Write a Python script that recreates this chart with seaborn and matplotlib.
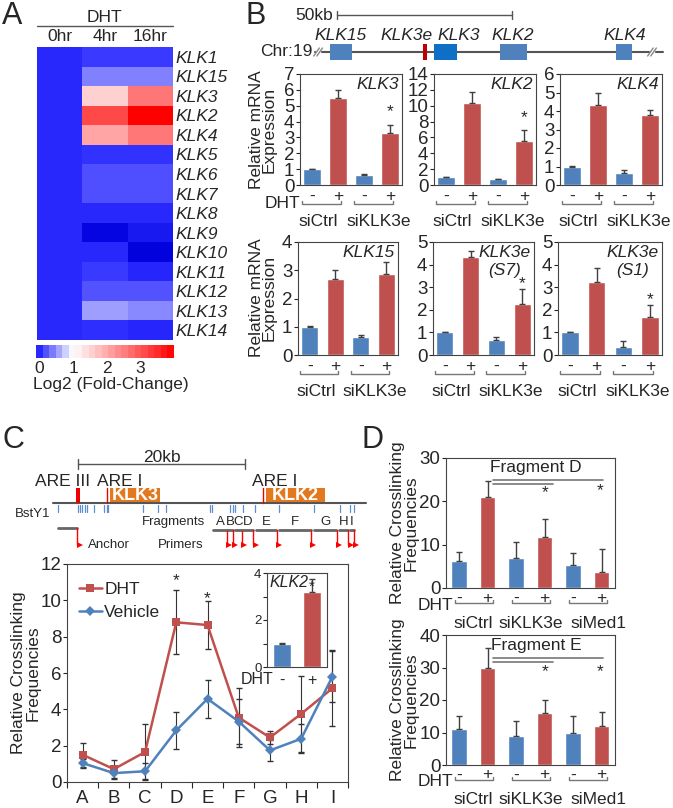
import numpy as np
import pandas as pd
import seaborn as sns
import matplotlib.pyplot as plt
from matplotlib.colors import LinearSegmentedColormap, Normalize
from matplotlib.cm import ScalarMappable

sns.set_style('white')
plt.rcParams['font.family'] = ['Liberation Sans', 'DejaVu Sans']

# ---- data ----
# A: log2 fold change of KLK genes after DHT
genes = ['KLK1', 'KLK15', 'KLK3', 'KLK2', 'KLK4', 'KLK5', 'KLK6', 'KLK7',
         'KLK8', 'KLK9', 'KLK10', 'KLK11', 'KLK12', 'KLK13', 'KLK14']
fc_0hr = [0.0] * 15
fc_4hr = [0.08, 0.42, 1.55, 3.15, 2.06, 0.04, 0.18, 0.18, 0.0, -0.25, -0.01, 0.08, 0.2, 0.55, 0.03]
fc_16hr = [0.08, 0.42, 2.62, 4.0, 2.59, 0.04, 0.18, 0.18, 0.0, -0.12, -0.28, -0.03, 0.2, 0.45, -0.03]

# B: relative mRNA expression (siCtrl -, +, siKLK3e -, +)
klk3_mean = [1.0, 5.5, 0.65, 3.3]
klk3_err = [0.03, 0.5, 0.05, 0.5]
klk2_mean = [1.0, 10.3, 0.75, 5.6]
klk2_err = [0.05, 1.4, 0.05, 1.3]
klk4_mean = [1.0, 4.3, 0.65, 3.8]
klk4_err = [0.02, 0.7, 0.15, 0.25]
klk15_mean = [1.0, 2.7, 0.62, 2.85]
klk15_err = [0.02, 0.3, 0.1, 0.45]
s7_mean = [1.0, 4.35, 0.65, 2.25]
s7_err = [0.02, 0.25, 0.15, 0.65]
s1_mean = [1.0, 3.25, 0.35, 1.7]
s1_err = [0.02, 0.6, 0.25, 0.5]
b_groups = ['siCtrl', 'siKLK3e']

# B schematic (kb)
b_gene_names = ['KLK15', 'KLK3e', 'KLK3', 'KLK2', 'KLK4']
b_gene_start = [-2.0, 24.6, 27.7, 46.6, 79.7]
b_gene_end = [4.3, 25.7, 34.3, 54.3, 84.3]
b_gene_label = [0.9, 20.0, 34.9, 50.3, 82.3]

# C: 3C crosslinking
fragments = ['A', 'B', 'C', 'D', 'E', 'F', 'G', 'H', 'I']
c_dht = [1.5, 0.71, 1.65, 8.79, 8.64, 3.55, 2.45, 3.75, 5.16]
c_dht_err = [0.65, 0.48, 1.55, 1.76, 1.3, 1.6, 0.35, 2.1, 2.1]
c_veh = [1.04, 0.49, 0.59, 2.84, 4.58, 3.33, 1.74, 2.38, 5.8]
c_veh_err = [0.25, 0.3, 0.45, 1.0, 1.05, 1.25, 0.57, 0.8, 1.4]
inset_mean = [1.0, 3.2]
inset_err = [0.02, 0.55]

# C schematic (kb from ARE III)
c_sites = [-2.4, 0.0, 0.24, 0.48, 0.84, 1.08, 1.92, 3.11, 3.47, 3.59, 7.78, 9.58,
           10.54, 15.81, 16.05, 18.2, 18.56, 18.8, 19.76, 21.2, 24.07, 28.26,
           31.38, 32.57, 33.05]
c_frag_start = [16.17, 17.96, 18.8, 19.76, 21.3, 24.07, 28.26, 31.26, 32.57]
c_frag_end = [17.84, 18.56, 19.64, 20.96, 23.8, 27.9, 31.0, 32.34, 33.05]

# D: crosslinking frequencies (siCtrl -, +, siKLK3e -, +, siMed1 -, +)
d_frag_d = [6.3, 21.0, 7.0, 11.8, 5.4, 3.8]
d_frag_d_err = [2.1, 3.8, 3.6, 4.2, 2.7, 5.3]
d_frag_e = [11.2, 29.7, 8.8, 16.0, 9.9, 12.0]
d_frag_e_err = [3.8, 6.2, 4.7, 4.0, 5.1, 4.3]
d_groups = ['siCtrl', 'siKLK3e', 'siMed1']

BLUE = '#4F81BD'
RED = '#C0504D'
ORANGE = '#E3791F'
FS = 12.5

W, H = 673, 808
fig = plt.figure(figsize=(W / 100, H / 100), dpi=100)


def axes_px(l, t, r, b):
    return fig.add_axes([l / W, 1 - b / H, (r - l) / W, (b - t) / H])


ov = axes_px(0, 0, W, H)
ov.set_xlim(0, W)
ov.set_ylim(H, 0)
ov.axis('off')

for letter, x, y in [('A', 2, 16), ('B', 245, 16), ('C', 2, 440), ('D', 362, 440)]:
    ov.text(x, y, letter, fontsize=22, ha='left', va='center')

# ---- A heatmap ----
hm = pd.DataFrame({'0hr': fc_0hr, '4hr': fc_4hr, '16hr': fc_16hr}, index=genes)
cmap = LinearSegmentedColormap.from_list(
    'fc', [(0, '#0000dd'), (0.3 / 4.3, '#2a2aff'), (1.3 / 4.3, '#ffffff'), (1, '#ff0000')])
axA = axes_px(37, 47, 173, 340)
sns.heatmap(hm, ax=axA, cmap=cmap, vmin=-0.3, vmax=4, cbar=False)
axA.yaxis.tick_right()
axA.xaxis.tick_top()
axA.tick_params(length=0, labelsize=FS, pad=2)
plt.setp(axA.get_yticklabels(), rotation=0, style='italic')
plt.setp(axA.get_xticklabels(), rotation=0)
axA.set_xlabel('')
axA.set_ylabel('')
ov.text(104, 18, 'DHT', ha='center', va='center', fontsize=FS)
ov.plot([37, 173], [26, 26], color='#555', lw=1)

cax = axes_px(36, 345, 174, 358)
cb = fig.colorbar(ScalarMappable(norm=Normalize(-0.3, 4), cmap=cmap), cax=cax,
                  orientation='horizontal', boundaries=np.linspace(-0.1, 4.0, 22),
                  ticks=[0, 1, 2, 3])
cb.outline.set_visible(False)
cax.tick_params(length=0, labelsize=FS, pad=2)
ov.text(33, 384, 'Log2 (Fold-Change)', ha='left', va='center', fontsize=FS)


# ---- helpers for bar panels ----
def bar_panel(box, vals, errs, ymax, ystep, width, xlim, tsize=13.5):
    l, t, r, b = box
    ax = axes_px(l, t, r, b)
    x = list(range(len(vals)))
    dht = ['-', '+'] * (len(vals) // 2)
    sns.barplot(x=x, y=vals, hue=dht, palette={'-': BLUE, '+': RED}, dodge=False,
                width=width, saturation=1, legend=False, errorbar=None, ax=ax)
    ax.errorbar(x, vals, yerr=[np.zeros(len(vals)), errs], fmt='none', ecolor='#404040',
                elinewidth=1, capsize=2.5, capthick=1)
    ax.set_xlim(*xlim)
    ax.set_ylim(0, ymax)
    ax.set_yticks(np.arange(0, ymax + ystep / 2, ystep))
    ax.set_xticks([])
    ax.set_xlabel('')
    ax.set_ylabel('')
    ax.tick_params(axis='y', left=True, direction='out', length=3, width=0.8, pad=1,
                   labelsize=tsize)
    for s in ax.spines.values():
        s.set_visible(True)
        s.set_color('#444')
        s.set_linewidth(0.8)
    return ax, b - t


def pair_marks(ax, h, names, sign_dy, br_dy, lab_dy, br_l, br_r, lab_dx, dht_dy=None):
    tr = ax.get_xaxis_transform()
    for i, name in enumerate(names):
        x0 = 2 * i
        ax.text(x0, -sign_dy / h, '-', transform=tr, ha='center', va='center', fontsize=FS)
        ax.text(x0 + 1, -sign_dy / h, '+', transform=tr, ha='center', va='center', fontsize=FS)
        yb = -br_dy / h
        yt = yb + 3 / h
        ax.plot([x0 + br_l, x0 + br_l, x0 + 1 + br_r, x0 + 1 + br_r], [yt, yb, yb, yt],
                transform=tr, color='#777', lw=1, clip_on=False)
        ax.text(x0 + 0.5 + lab_dx[i], -lab_dy / h, name,
                transform=tr, ha='center', va='center', fontsize=FS)
    if dht_dy is not None:
        ax.text(br_l - 0.05, -dht_dy / h, 'DHT', transform=tr, ha='right', va='center',
                fontsize=FS)


def star(ax, x, y, size=FS):
    ax.text(x, y, '*', ha='center', va='center', fontsize=size)


def inner_title(ax, txt):
    ax.text(0.97, 0.97, txt, transform=ax.transAxes, ha='right', va='top',
            style='italic', fontsize=FS, linespacing=1.2, multialignment='center')


# ---- B schematic ----
axBs = axes_px(240, 0, 673, 70)
axBs.set_xlim((240 - 337) / 3.5, (673 - 337) / 3.5)
axBs.set_ylim(70, 0)
axBs.axis('off')
axBs.plot([0, 50], [15, 15], color='#555', lw=1)
axBs.plot([0, 0], [11, 19], color='#555', lw=1)
axBs.plot([50, 50], [11, 19], color='#555', lw=1)
axBs.text(-1.0, 15, '50kb', ha='right', va='center', fontsize=FS)
axBs.plot([-6.3, 93.1], [52, 52], color='#555', lw=1.5, zorder=1)
for xb in [-5.4, 90.0]:
    for dx in [-0.45, 0.45]:
        axBs.plot([xb + dx - 0.8, xb + dx + 0.8], [56, 48], color='#888', lw=1, zorder=3)
    axBs.fill_between([xb - 0.6, xb + 0.6], 46, 58, color='white', zorder=2)
axBs.text(-7.0, 52, 'Chr:19', ha='right', va='center', fontsize=FS)
gene_cols = [BLUE, '#C00000', '#0F6FC6', BLUE, BLUE]
for name, s, e, lx, c in zip(b_gene_names, b_gene_start, b_gene_end, b_gene_label, gene_cols):
    axBs.fill_between([s, e], 44, 60, color=c, zorder=3, lw=0)
    axBs.text(lx, 35, name, ha='center', va='center', style='italic', fontsize=FS)

# ---- B bar charts ----
row1 = [((300, 74, 402, 185), klk3_mean, klk3_err, 7, 1, 'KLK3', True),
        ((434, 74, 536, 185), klk2_mean, klk2_err, 14, 2, 'KLK2', True),
        ((560, 74, 662, 185), klk4_mean, klk4_err, 6, 1, 'KLK4', False)]
row2 = [((298, 242, 398, 355), klk15_mean, klk15_err, 4, 1, 'KLK15', False),
        ((433, 242, 534, 355), s7_mean, s7_err, 5, 1, 'KLK3e\n(S7)', True),
        ((558, 242, 662, 355), s1_mean, s1_err, 5, 1, 'KLK3e\n(S1)', True)]
for r, row in enumerate([row1, row2]):
    for j, (box, m, e, ymax, ystep, title, st) in enumerate(row):
        ax, h = bar_panel(box, m, e, ymax, ystep, 0.66, (-0.46, 3.46))
        inner_title(ax, title)
        if st:
            off = 4 if r == 0 else -1
            ax.annotate('*', (3, m[3] + e[3]), xytext=(0, off), textcoords='offset points',
                        ha='center', va='bottom', fontsize=FS)
        pair_marks(ax, h, b_groups, 11, 19, 36, -0.4, 0.12, [-0.25, 0.05],
                   dht_dy=18 if (r == 0 and j == 0) else None)
for yc in [130, 298]:
    ov.text(263, yc, 'Relative mRNA\nExpression', rotation=90, ha='center', va='center',
            fontsize=FS, linespacing=0.85)

# ---- C schematic ----
axCs = axes_px(0, 440, 370, 560)
axCs.set_xlim((0 - 78) / 8.35, (370 - 78) / 8.35)
axCs.set_ylim(560, 440)
axCs.axis('off')
axCs.plot([0, 20], [464, 464], color='#555', lw=1)
axCs.plot([0, 0], [459, 469], color='#555', lw=1)
axCs.plot([20, 20], [459, 469], color='#555', lw=1)
axCs.text(10, 457, '20kb', ha='center', va='center', fontsize=FS)
axCs.text(-1.9, 482, 'ARE III', ha='center', va='center', fontsize=FS)
axCs.text(5.0, 482, 'ARE I', ha='center', va='center', fontsize=FS)
axCs.text(23.5, 482, 'ARE I', ha='center', va='center', fontsize=FS)
axCs.plot([-3.0, 34.5], [503, 503], color='#555', lw=1.5, zorder=2)
axCs.fill_between([-0.25, 0.25], 488, 503, color='#EE0000', lw=0, zorder=3)
for are in [3.5, 22.2]:
    axCs.plot([are, are], [488, 503], color='#EE0000', lw=1, zorder=3)
for name, s, e in [('KLK3', 3.8, 9.8), ('KLK2', 22.5, 29.6)]:
    axCs.fill_between([s, e], 488, 502, color=ORANGE, lw=0, zorder=3)
    axCs.text((s + e) / 2, 495.5, name, ha='center', va='center', color='white',
              fontweight='bold', fontsize=13)
for s in c_sites:
    axCs.plot([s, s], [505, 512], color='#5B8FD0', lw=0.9)
axCs.text(-7.5, 514, 'BstY1', ha='left', va='center', fontsize=9.5)
axCs.text(7.7, 522, 'Fragments', ha='left', va='center', fontsize=9.5)
axCs.text(1.2, 545, 'Anchor', ha='left', va='center', fontsize=9.5)
axCs.text(9.6, 545, 'Primers', ha='left', va='center', fontsize=9.5)


def primer(ax, x, y0):
    ax.plot([x, x], [y0, 545], color='#FF0000', lw=1)
    ax.plot(x + 0.3, 545, marker='>', ms=4.5, color='#FF0000', mew=0)


axCs.plot([-2.4, -0.1], [528, 528], color='#666', lw=2)
primer(axCs, -0.1, 528)
for name, s, e in zip(fragments, c_frag_start, c_frag_end):
    axCs.plot([s + 0.05, e - 0.05], [530, 530], color='#666', lw=2)
    axCs.text((s + e) / 2, 522, name, ha='center', va='center', fontsize=9.5)
    primer(axCs, e, 530)

# ---- C line plot ----
axC = axes_px(67, 564, 348, 782)
xpos = np.arange(len(fragments))
sns.lineplot(x=xpos, y=c_dht, ax=axC, color=RED, marker='s', markersize=6, mew=0, lw=1.8,
             label='DHT', errorbar=None, zorder=3)
sns.lineplot(x=xpos, y=c_veh, ax=axC, color=BLUE, marker='D', markersize=5, mew=0, lw=1.8,
             label='Vehicle', errorbar=None, zorder=3)
axC.errorbar(xpos, c_dht, yerr=c_dht_err, fmt='none', ecolor='#333', elinewidth=0.8,
             capsize=2, zorder=2)
axC.errorbar(xpos, c_veh, yerr=c_veh_err, fmt='none', ecolor='#333', elinewidth=0.8,
             capsize=2, zorder=2)
axC.set_xlim(-0.5, 8.5)
axC.set_ylim(0, 12)
axC.set_yticks(range(0, 13, 2))
axC.set_xticks(xpos)
axC.set_xticklabels(fragments)
axC.set_xticks(np.arange(-0.5, 9, 1), minor=True)
axC.tick_params(axis='x', which='major', length=0, labelsize=13.5, pad=6)
axC.tick_params(axis='x', which='minor', bottom=True, direction='out', length=4, width=0.8)
axC.tick_params(axis='y', left=True, direction='out', length=3, width=0.8, labelsize=13.5, pad=1)
for s in axC.spines.values():
    s.set_visible(True)
    s.set_color('#444')
    s.set_linewidth(0.8)
star(axC, 3, 11.1)
star(axC, 4, 10.1)
axC.legend(loc='upper left', bbox_to_anchor=(0.0, 0.975), frameon=False, fontsize=FS,
           handlelength=1.3, handletextpad=0.15, labelspacing=0.45, borderaxespad=0.3)
ov.text(26, 673, 'Relative Crosslinking\nFrequencies', rotation=90, ha='center', va='center',
        fontsize=FS, linespacing=0.95)

# inset
axI, hI = bar_panel((267, 573, 327, 667), inset_mean, inset_err, 4, 1, 0.6, (-0.5, 1.5), tsize=9.5)
axI.set_yticklabels(['0', '', '2', '', '4'])
axI.text(0.05, 0.9, 'KLK2', transform=axI.transAxes, ha='left', va='center',
         style='italic', fontsize=11.5)
star(axI, 0.98, 3.4, 11)
trI = axI.get_xaxis_transform()
axI.text(0, -13 / hI, '-', transform=trI, ha='center', va='center', fontsize=11.5)
axI.text(1, -13 / hI, '+', transform=trI, ha='center', va='center', fontsize=11.5)
axI.text(-0.3, -13 / hI, 'DHT', transform=trI, ha='right', va='center', fontsize=11.5)
ov.text(242, 615, 'Relative mRNA\nExpression', rotation=90, ha='center', va='center',
        fontsize=10, linespacing=0.85)

# ---- D ----
d_panels = [((446, 458, 615, 588), d_frag_d, d_frag_d_err, 30, 'Fragment D', 27.7,
             (24.9, 24.0), (21.9, 22.4)),
            ((446, 635, 615, 765), d_frag_e, d_frag_e_err, 40, 'Fragment E', 36.9,
             (32.9, 31.7), (28.6, 28.6))]
for box, m, e, ymax, title, ty, lines, stars in d_panels:
    ax, h = bar_panel(box, m, e, ymax, 10, 0.55, (-0.46, 5.47))
    ax.text(2.7, ty, title, ha='center', va='center', fontsize=FS)
    ax.plot([1.19, 5.05], [lines[0], lines[0]], color='#777', lw=1.2)
    ax.plot([1.19, 3.3], [lines[1], lines[1]], color='#777', lw=1.2)
    star(ax, 3.02, stars[0])
    star(ax, 4.95, stars[1])
    pair_marks(ax, h, d_groups, 10, 15, 35, -0.15, 0.2, [0.0, 0.0, 0.4], dht_dy=17)
for yc in [523, 700]:
    ov.text(404, yc, 'Relative Crosslinking\nFrequencies', rotation=90, ha='center',
            va='center', fontsize=FS, linespacing=0.9)

fig.savefig('out.png', dpi=100)
